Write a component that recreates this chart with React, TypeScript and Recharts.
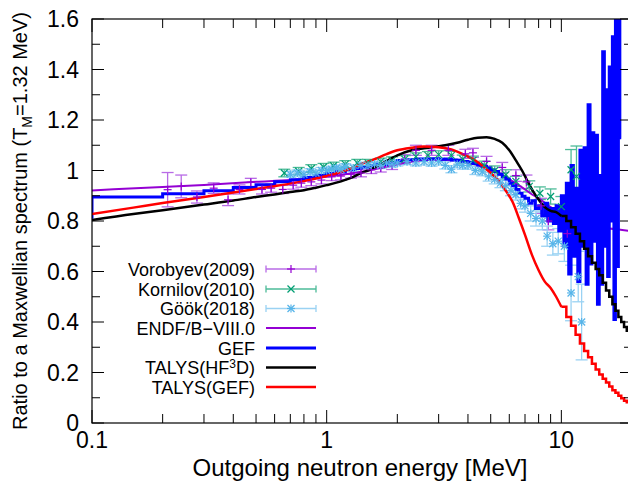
import React from 'react';
import { ComposedChart, Line, Scatter, XAxis, YAxis, ErrorBar } from 'recharts';

// ---------------- data ----------------
// [energy MeV, ratio, error]
const vorobyev2009: number[][] = [
  [0.21, 0.924, 0.068], [0.24, 0.937, 0.045], [0.28, 0.895, 0.024], [0.33, 0.93, 0.021],
  [0.38, 0.884, 0.023], [0.425, 0.925, 0.018], [0.475, 0.953, 0.016], [0.53, 0.925, 0.018],
  [0.58, 0.93, 0.016], [0.65, 0.925, 0.016], [0.72, 0.942, 0.016], [0.78, 0.95, 0.016],
  [0.86, 0.955, 0.015], [0.95, 0.962, 0.015], [1.05, 0.975, 0.015], [1.15, 0.978, 0.015],
  [1.27, 0.985, 0.015], [1.4, 0.99, 0.015], [1.55, 1.003, 0.015], [1.7, 1.01, 0.016],
  [1.9, 1.02, 0.016], [2.15, 1.045, 0.018], [2.4, 1.08, 0.02], [2.8, 1.08, 0.02],
  [3.3, 1.08, 0.02], [3.9, 1.066, 0.018], [4.2, 1.07, 0.018], [4.8, 1.036, 0.02],
  [5.6, 1.012, 0.02], [6.4, 0.98, 0.023], [7.1, 0.955, 0.027], [8.2, 0.86, 0.03],
  [8.8, 0.8, 0.035], [10.6, 0.75, 0.05],
];

const kornilov2010: number[][] = [
  [0.66, 0.99, 0.015], [0.76, 0.997, 0.015], [0.86, 1.008, 0.015], [0.97, 1.014, 0.014],
  [1.07, 1.019, 0.014], [1.2, 1.025, 0.014], [1.35, 1.03, 0.014], [1.5, 1.03, 0.014],
  [1.7, 1.035, 0.014], [1.9, 1.04, 0.014], [2.15, 1.045, 0.014], [2.4, 1.055, 0.015],
  [2.7, 1.06, 0.015], [3.0, 1.063, 0.015], [3.4, 1.06, 0.016], [3.8, 1.045, 0.016],
  [4.2, 1.04, 0.017], [4.7, 1.02, 0.017], [5.2, 1.0, 0.018], [5.8, 0.983, 0.02],
  [6.4, 0.957, 0.02], [7.3, 0.937, 0.022], [8.1, 0.91, 0.025], [9.0, 0.897, 0.03],
  [10.0, 0.857, 0.04], [11.0, 1.003, 0.08], [11.6, 0.977, 0.12],
];

const gook2018: number[][] = [
  [0.7, 0.985, 0.012], [0.75, 0.99, 0.012], [0.8, 0.985, 0.012], [0.85, 0.995, 0.012],
  [0.9, 0.99, 0.012], [0.95, 1.0, 0.012], [1.0, 1.0, 0.012], [1.05, 1.005, 0.012],
  [1.1, 1.01, 0.012], [1.15, 1.005, 0.012], [1.2, 1.015, 0.012], [1.3, 1.01, 0.012],
  [1.4, 1.02, 0.012], [1.5, 1.02, 0.012], [1.6, 1.025, 0.012], [1.7, 1.02, 0.012],
  [1.8, 1.03, 0.012], [1.9, 1.025, 0.012], [2.0, 1.03, 0.012], [2.2, 1.035, 0.012],
  [2.4, 1.03, 0.012], [2.6, 1.035, 0.013], [2.8, 1.03, 0.013], [3.0, 1.035, 0.013],
  [3.2, 1.02, 0.014], [3.4, 1.005, 0.014], [3.6, 1.025, 0.014], [3.8, 1.02, 0.015],
  [4.0, 1.02, 0.015], [4.3, 1.0, 0.016], [4.6, 0.995, 0.016], [4.9, 0.975, 0.017],
  [5.2, 0.965, 0.018], [5.5, 0.95, 0.018], [5.8, 0.94, 0.02], [6.1, 0.92, 0.02],
  [6.4, 0.905, 0.022], [6.7, 0.87, 0.022], [7.0, 0.86, 0.025], [7.4, 0.83, 0.03],
  [7.8, 0.81, 0.03], [8.3, 0.8, 0.035], [8.7, 0.74, 0.04], [9.2, 0.71, 0.045],
  [9.7, 0.72, 0.05], [10.3, 0.7, 0.06], [11.0, 0.515, 0.11], [11.8, 0.58, 0.1],
  [12.2, 0.4, 0.15],
];

// [energy, ratio]
const endfB8: number[][] = [
  [0.1, 0.921], [0.2, 0.935], [0.3, 0.943], [0.5, 0.955], [0.7, 0.962], [1.0, 0.975],
  [1.3, 0.99], [1.6, 1.005], [2.0, 1.025], [2.5, 1.04], [3.0, 1.043], [3.5, 1.04],
  [4.0, 1.03], [4.5, 1.018], [5.0, 1.0], [5.5, 0.985], [6.0, 0.965], [6.5, 0.945],
  [7.0, 0.925], [7.5, 0.905], [8.0, 0.89], [9.0, 0.855], [10, 0.825], [11, 0.8],
  [12, 0.785], [14, 0.775], [16, 0.77], [20, 0.76],
];

// GEF histogram: [bin lower edge, ratio]
const gef: number[][] = [
  [0.05, 0.815], [0.1, 0.895], [0.2, 0.908], [0.3, 0.92], [0.4, 0.933], [0.5, 0.944],
  [0.6, 0.955], [0.7, 0.963], [0.8, 0.972], [0.9, 0.98], [1.0, 0.988], [1.1, 0.995],
  [1.2, 1.003], [1.3, 1.008], [1.4, 1.014], [1.5, 1.019], [1.6, 1.024], [1.8, 1.032],
  [2.0, 1.04], [2.2, 1.043], [2.4, 1.046], [2.6, 1.046], [2.8, 1.047], [3.0, 1.045],
  [3.2, 1.046], [3.4, 1.042], [3.6, 1.04], [3.8, 1.036], [4.0, 1.033], [4.2, 1.028],
  [4.4, 1.022], [4.6, 1.016], [4.8, 1.01], [5.0, 1.002], [5.2, 0.996], [5.4, 0.985],
  [5.6, 0.975], [5.8, 0.966], [6.0, 0.95], [6.2, 0.94], [6.4, 0.925], [6.6, 0.91],
  [6.8, 0.898], [7.0, 0.89], [7.25, 0.87], [7.5, 0.88], [7.75, 0.85], [8.0, 0.86],
  [8.25, 0.82], [8.5, 0.87], [8.75, 0.8], [9.0, 0.85], [9.25, 0.79], [9.5, 0.86],
  [9.75, 0.76], [10.0, 0.9], [10.25, 0.7], [10.5, 0.95], [10.75, 0.59], [11.0, 1.02],
  [11.25, 0.66], [11.5, 0.93], [11.75, 0.56], [12.0, 1.08], [12.25, 0.7], [12.5, 1.09],
  [12.75, 0.55], [13.0, 1.26], [13.25, 0.63], [13.5, 1.15], [13.75, 0.72], [14.0, 1.14],
  [14.25, 0.47], [14.5, 0.98], [14.75, 0.55], [15.0, 1.47], [15.25, 0.7], [15.5, 1.32],
  [15.75, 0.58], [16.0, 1.41], [16.25, 0.8], [16.5, 1.53], [16.75, 0.41], [17.0, 1.7],
  [17.25, 0.62], [17.5, 1.75], [17.75, 1.13], [18.0, 1.13],
];

// TALYS(HF3D): smooth part and histogram part
const talysHf3dSmooth: number[][] = [
  [0.1, 0.804], [0.15, 0.828], [0.2, 0.843], [0.3, 0.865], [0.4, 0.881], [0.5, 0.895],
  [0.6, 0.905], [0.7, 0.915], [0.8, 0.922], [0.9, 0.932], [1.0, 0.942], [1.1, 0.952],
  [1.2, 0.963], [1.3, 0.975], [1.4, 0.99], [1.5, 1.0], [1.7, 1.025], [2.0, 1.06],
  [2.3, 1.08], [2.6, 1.088], [2.9, 1.094], [3.2, 1.1], [3.6, 1.11], [4.0, 1.122],
  [4.4, 1.13], [4.8, 1.132], [5.2, 1.125], [5.6, 1.11], [6.0, 1.08], [6.4, 1.04],
  [6.8, 1.0], [7.2, 0.955], [7.6, 0.915], [8.0, 0.885], [8.5, 0.855], [9.0, 0.84],
  [9.5, 0.835], [10.0, 0.82],
];
const talysHf3dHist: number[][] = [
  [10.0, 0.82], [10.5, 0.8], [11.0, 0.775], [11.5, 0.75], [12.0, 0.72], [12.5, 0.69],
  [13.0, 0.66], [13.5, 0.635], [14.0, 0.61], [14.5, 0.585], [15.0, 0.555], [15.5, 0.525],
  [16.0, 0.5], [16.5, 0.47], [17.0, 0.445], [17.5, 0.42], [18.0, 0.4], [18.5, 0.38],
  [19.0, 0.365], [19.5, 0.35], [20.0, 0.34],
];

// TALYS(GEF): smooth part and histogram part
const talysGefSmooth: number[][] = [
  [0.1, 0.828], [0.15, 0.853], [0.2, 0.871], [0.3, 0.895], [0.4, 0.913], [0.5, 0.927],
  [0.6, 0.938], [0.7, 0.948], [0.8, 0.958], [0.9, 0.968], [1.0, 0.978], [1.2, 1.0],
  [1.4, 1.025], [1.6, 1.045], [1.8, 1.065], [2.0, 1.08], [2.3, 1.09], [2.6, 1.095],
  [3.0, 1.092], [3.4, 1.083], [3.8, 1.065], [4.2, 1.045], [4.6, 1.02], [5.0, 0.99],
  [5.4, 0.96], [5.8, 0.92], [6.2, 0.875], [6.6, 0.81], [7.0, 0.745], [7.5, 0.665],
  [8.0, 0.605], [8.5, 0.56], [9.0, 0.535], [9.5, 0.5], [10.0, 0.46],
];
const talysGefHist: number[][] = [
  [10.0, 0.46], [10.5, 0.42], [11.0, 0.385], [11.5, 0.35], [12.0, 0.315], [12.5, 0.285],
  [13.0, 0.26], [13.5, 0.235], [14.0, 0.212], [14.5, 0.192], [15.0, 0.175], [15.5, 0.16],
  [16.0, 0.145], [16.5, 0.13], [17.0, 0.12], [17.5, 0.108], [18.0, 0.098], [18.5, 0.088],
  [19.0, 0.082], [19.5, 0.076], [20.0, 0.07],
];

const xTicks = [0.1, 0.2, 0.3, 0.4, 0.5, 0.6, 0.7, 0.8, 0.9, 1, 2, 3, 4, 5, 6, 7, 8, 9, 10, 20];
const xTickLabels: Record<string, string> = { '0.1': '0.1', '1': '1', '10': '10' };
const yTicks = [0, 0.1, 0.2, 0.3, 0.4, 0.5, 0.6, 0.7, 0.8, 0.9, 1, 1.1, 1.2, 1.3, 1.4, 1.5, 1.6];
const yTickLabels: Record<string, string> = {
  '0': '0', '0.2': '0.2', '0.4': '0.4', '0.6': '0.6', '0.8': '0.8', '1': '1',
  '1.2': '1.2', '1.4': '1.4', '1.6': '1.6',
};

const legendLabels = ['Vorobyev(2009)', 'Kornilov(2010)', 'Göök(2018)', 'ENDF/B−VIII.0', 'GEF', 'TALYS(HF3D)', 'TALYS(GEF)'];

// ---------------- layout / style ----------------
const W = 640;
const H = 486;
const PL = 92, PT = 19, PR = 632, PB = 423;
const FONT = '"Liberation Sans", Arial, Helvetica, sans-serif';

const C_VOR = '#9400d3', C_VOR_ERR = '#b86be6';
const C_KOR = '#009e73', C_KOR_ERR = '#4dbb98';
const C_GOOK = '#56b4e9', C_GOOK_ERR = '#9ad2f3';
const C_ENDF = '#9400d3', C_GEF = '#0000ff', C_HF3D = '#000000', C_TGEF = '#ff0000';

const toXY = (arr: number[][]) => arr.map((r) => ({ e: r[0], v: r[1], err: r[2] }));

const PlusShape = (p: any) => {
  const { cx, cy } = p;
  if (cx == null || cy == null) return null;
  return (
    <g stroke={C_VOR} strokeWidth={1.2}>
      <line x1={cx - 4} x2={cx + 4} y1={cy} y2={cy} />
      <line x1={cx} x2={cx} y1={cy - 4} y2={cy + 4} />
    </g>
  );
};
const CrossShape = (p: any) => {
  const { cx, cy } = p;
  if (cx == null || cy == null) return null;
  return (
    <g stroke={C_KOR} strokeWidth={1.2}>
      <line x1={cx - 3.5} x2={cx + 3.5} y1={cy - 3.5} y2={cy + 3.5} />
      <line x1={cx - 3.5} x2={cx + 3.5} y1={cy + 3.5} y2={cy - 3.5} />
    </g>
  );
};
const StarShape = (p: any) => {
  const { cx, cy } = p;
  if (cx == null || cy == null) return null;
  return (
    <g stroke={C_GOOK} strokeWidth={1.2}>
      <line x1={cx - 3.5} x2={cx + 3.5} y1={cy - 3.5} y2={cy + 3.5} />
      <line x1={cx - 3.5} x2={cx + 3.5} y1={cy + 3.5} y2={cy - 3.5} />
      <line x1={cx - 4} x2={cx + 4} y1={cy} y2={cy} />
      <line x1={cx} x2={cx} y1={cy - 4} y2={cy + 4} />
    </g>
  );
};

const XTick = (props: any) => {
  const { x, payload } = props;
  const key = String(payload.value);
  const label = xTickLabels[key];
  const len = label ? 13 : 9;
  return (
    <g>
      <line x1={x} x2={x} y1={PB} y2={PB - len} stroke="#000" strokeWidth={1} />
      <line x1={x} x2={x} y1={PT} y2={PT + len} stroke="#000" strokeWidth={1} />
      {label && (
        <text x={x} y={PB + 25} textAnchor="middle" fontSize={23} fontFamily={FONT} fill="#000">
          {label}
        </text>
      )}
    </g>
  );
};

const YTick = (props: any) => {
  const { y, payload } = props;
  const key = String(payload.value);
  const label = yTickLabels[key];
  const len = label ? 12 : 8;
  return (
    <g>
      <line x1={PL} x2={PL + len} y1={y} y2={y} stroke="#000" strokeWidth={1} />
      <line x1={PR} x2={PR - len} y1={y} y2={y} stroke="#000" strokeWidth={1} />
      {label && (
        <text x={PL - 13} y={y + 8} textAnchor="end" fontSize={23} fontFamily={FONT} fill="#000">
          {label}
        </text>
      )}
    </g>
  );
};

const legendRowsY = [269, 289, 308.5, 328, 348, 367.5, 387];

const Overlay = () => {
  const tx = 255;
  const lx1 = 266, lx2 = 316, mx = 291;
  const rowText = (i: number, content: React.ReactNode) => (
    <text x={tx} y={legendRowsY[i] + 6.5} textAnchor="end" fontSize={18} fontFamily={FONT} fill="#000">
      {content}
    </text>
  );
  const errSample = (i: number, col: string, marker: React.ReactNode) => {
    const y = legendRowsY[i];
    return (
      <g>
        <line x1={lx1} x2={lx2} y1={y} y2={y} stroke={col} strokeWidth={1.3} />
        <line x1={lx1} x2={lx1} y1={y - 3.5} y2={y + 3.5} stroke={col} strokeWidth={1.3} />
        <line x1={lx2} x2={lx2} y1={y - 3.5} y2={y + 3.5} stroke={col} strokeWidth={1.3} />
        {marker}
      </g>
    );
  };
  const lineSample = (i: number, col: string, w: number) => (
    <line x1={lx1} x2={lx2} y1={legendRowsY[i]} y2={legendRowsY[i]} stroke={col} strokeWidth={w} />
  );
  return (
    <svg width={W} height={H} style={{ position: 'absolute', left: 0, top: 0, pointerEvents: 'none' }}>
      <rect x={PL} y={PT} width={PR - PL} height={PB - PT} fill="none" stroke="#000" strokeWidth={1.2} />
      {rowText(0, legendLabels[0])}
      {errSample(0, C_VOR_ERR, <PlusShape cx={mx} cy={legendRowsY[0]} />)}
      {rowText(1, legendLabels[1])}
      {errSample(1, C_KOR_ERR, <CrossShape cx={mx} cy={legendRowsY[1]} />)}
      {rowText(2, legendLabels[2])}
      {errSample(2, C_GOOK_ERR, <StarShape cx={mx} cy={legendRowsY[2]} />)}
      {rowText(3, legendLabels[3])}
      {lineSample(3, C_ENDF, 2)}
      {rowText(4, legendLabels[4])}
      {lineSample(4, C_GEF, 3)}
      {rowText(5, <>TALYS(HF<tspan dy={-6} fontSize={12}>3</tspan><tspan dy={6}>D)</tspan></>)}
      {lineSample(5, C_HF3D, 2.5)}
      {rowText(6, legendLabels[6])}
      {lineSample(6, C_TGEF, 2.5)}
      <text x={(PL + PR) / 2 - 2} y={476} textAnchor="middle" fontSize={24} fontFamily={FONT} fill="#000">
        Outgoing neutron energy [MeV]
      </text>
      <text transform="rotate(-90)" x={-221} y={27} textAnchor="middle" fontSize={20} fontFamily={FONT} fill="#000">
        Ratio to a Maxwellian spectrum (T<tspan dy={5} fontSize={14}>M</tspan><tspan dy={-5}>=1.32 MeV)</tspan>
      </text>
    </svg>
  );
};

export default function App() {
  return (
    <div style={{ position: 'fixed', left: 0, top: 0, width: 628, height: 486, overflow: 'hidden', background: '#fff' }}>
      <ComposedChart width={W} height={H} margin={{ top: PT, right: W - PR, bottom: 0, left: 0 }}>
        <XAxis
          dataKey="e"
          type="number"
          scale="log"
          domain={[0.1, 20]}
          allowDataOverflow
          ticks={xTicks}
          interval={0}
          height={H - PB}
          tickSize={0}
          tickMargin={0}
          axisLine={false}
          tickLine={false}
          tick={<XTick />}
        />
        <YAxis
          dataKey="v"
          type="number"
          domain={[0, 1.6]}
          allowDataOverflow
          ticks={yTicks}
          interval={0}
          width={PL}
          tickSize={0}
          tickMargin={0}
          axisLine={false}
          tickLine={false}
          tick={<YTick />}
        />
        <Scatter data={toXY(vorobyev2009)} dataKey="v" shape={<PlusShape />} isAnimationActive={false}>
          <ErrorBar dataKey="err" direction="y" width={6} stroke={C_VOR_ERR} strokeWidth={1.3} />
        </Scatter>
        <Scatter data={toXY(kornilov2010)} dataKey="v" shape={<CrossShape />} isAnimationActive={false}>
          <ErrorBar dataKey="err" direction="y" width={6} stroke={C_KOR_ERR} strokeWidth={1.3} />
        </Scatter>
        <Scatter data={toXY(gook2018)} dataKey="v" shape={<StarShape />} isAnimationActive={false}>
          <ErrorBar dataKey="err" direction="y" width={6} stroke={C_GOOK_ERR} strokeWidth={1.3} />
        </Scatter>
        <Line data={toXY(endfB8)} dataKey="v" type="monotone" stroke={C_ENDF} strokeWidth={2} dot={false} isAnimationActive={false} />
        <Line data={toXY(gef)} dataKey="v" type="stepAfter" stroke={C_GEF} strokeWidth={3} dot={false} isAnimationActive={false} />
        <Line data={toXY(talysHf3dSmooth)} dataKey="v" type="monotone" stroke={C_HF3D} strokeWidth={2.5} dot={false} isAnimationActive={false} />
        <Line data={toXY(talysHf3dHist)} dataKey="v" type="stepAfter" stroke={C_HF3D} strokeWidth={2.5} dot={false} isAnimationActive={false} />
        <Line data={toXY(talysGefSmooth)} dataKey="v" type="monotone" stroke={C_TGEF} strokeWidth={2.5} dot={false} isAnimationActive={false} />
        <Line data={toXY(talysGefHist)} dataKey="v" type="stepAfter" stroke={C_TGEF} strokeWidth={2.5} dot={false} isAnimationActive={false} />
      </ComposedChart>
      <Overlay />
    </div>
  );
}
